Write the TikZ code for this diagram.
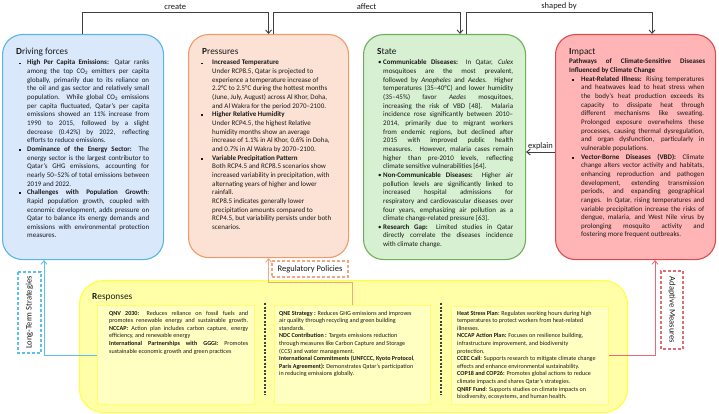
\documentclass[tikz,border=0pt]{standalone}
\usepackage{fontspec}
\setmainfont{Carlito}
\usetikzlibrary{arrows.meta}
\definecolor{dfFill}{HTML}{DAE8FC}
\definecolor{dfLine}{HTML}{5AB4E6}
\definecolor{prFill}{HTML}{FBE2D5}
\definecolor{prLine}{HTML}{F29A6C}
\definecolor{stFill}{HTML}{D8F0D2}
\definecolor{stLine}{HTML}{6FAE5C}
\definecolor{imFill}{HTML}{FFB5B5}
\definecolor{imLine}{HTML}{DC4B4B}
\definecolor{rsFill}{HTML}{FFFFA8}
\definecolor{rsLine}{HTML}{FFFF3A}
\definecolor{inFill}{HTML}{FFFFC2}
\definecolor{inLine}{HTML}{FFFF6E}
\definecolor{ltsCol}{HTML}{5BC0EB}
\definecolor{rpCol}{HTML}{F4A582}
\definecolor{amCol}{HTML}{E06C75}
\definecolor{txtCol}{HTML}{1A1A1A}
\definecolor{conCol}{HTML}{404040}
\newcommand\bodyfont{\fontsize{7}{8.65}\selectfont}
\newcommand\respfont{\fontsize{6.1}{7.6}\selectfont}
\newcommand\titlefont{\fontsize{9.3}{11}\selectfont}
\newcommand\labfont{\fontsize{8.5}{10}\selectfont}
\newcommand\tb[2]{\vtop{\hsize=#1\relax #2}}
\newcommand\jl[1]{\hbox to\hsize{#1}}
\newcommand\rl[1]{\hbox to\hsize{#1\hfil}}
\newcommand\bsq[1]{\llap{\raisebox{0.6pt}{\rule{1.8pt}{1.8pt}}\hskip#1}}
\newcommand\bdt[1]{\llap{\textbullet\hskip#1}}
\tikzset{
 bigbox/.style={draw, rounded corners=20pt, line width=1.1pt, anchor=north west, inner sep=0},
 inbox/.style={draw=inLine, fill=inFill, line width=0.9pt, anchor=north west, inner sep=0},
 txt/.style={anchor=base west, inner sep=0, text=txtCol, font=\bodyfont},
 rtxt/.style={anchor=base west, inner sep=0, text=txtCol, font=\respfont},
 ttl/.style={anchor=base west, inner sep=0, text=txtCol, font=\titlefont},
 conn/.style={draw=conCol, line width=0.9pt},
 arr/.style={-{Straight Barb[length=3.5pt,width=6pt]}},
 lab/.style={font=\labfont, text=txtCol, inner sep=1pt},
 sidebox/.style={draw, dash pattern=on 3pt off 2pt, line width=1.1pt, fill=white, anchor=center, inner sep=0, font=\labfont, text=txtCol},
 sepline/.style={draw=conCol, line width=1.1pt, dash pattern=on 2pt off 1.5pt},
}
\begin{document}
\begin{tikzpicture}[x=1pt,y=-1pt]
\useasboundingbox (0,0) rectangle (719,414);
% main boxes
\node[bigbox, draw=dfLine, fill=dfFill, minimum width=161pt, minimum height=225pt] (df) at (2,34) {};
\node[bigbox, draw=prLine, fill=prFill, minimum width=160pt, minimum height=223pt] (pr) at (188,34) {};
\node[bigbox, draw=stLine, fill=stFill, minimum width=162pt, minimum height=225pt] (st) at (363,34) {};
\node[bigbox, draw=imLine, fill=imFill, minimum width=160pt, minimum height=225pt] (im) at (555,34) {};
\node[bigbox, draw=rsLine, fill=rsFill, rounded corners=24pt, minimum width=548pt, minimum height=132pt] (rs) at (79,280) {};
\node[inbox, minimum width=157pt, minimum height=99pt] (rl) at (97,305) {};
\node[inbox, minimum width=156pt, minimum height=99pt] (rm) at (274,305) {};
\node[inbox, minimum width=157pt, minimum height=98pt] (rr) at (451,306) {};
\draw[sepline] (265,303) -- (265,395);
\draw[sepline] (441,303) -- (441,395);
% titles
\node[ttl] (dfh) at (16,55) {\textbf{D}riving forces};
\node[ttl] (prh) at (202,55) {\textbf{P}ressures};
\node[ttl] (sth) at (377,55) {\textbf{S}tate};
\node[ttl] (imh) at (569,55) {\textbf{I}mpact};
\node[ttl] (rsh) at (92,299) {\textbf{R}esponses};
% driving forces text
\node[txt] (dft) at (27,65) {\tb{122pt}{%
\jl{\bsq{6.5pt}\textbf{High Per Capita Emissions:} Qatar ranks}
\jl{among the top CO\textsubscript{2} emitters per capita}
\jl{globally, primarily due to its reliance on}
\jl{the oil and gas sector and relatively small}
\jl{population. While global CO\textsubscript{2} emissions}
\jl{per capita fluctuated, Qatar’s per capita}
\jl{emissions showed an 11\% increase from}
\jl{1990 to 2015, followed by a slight}
\jl{decrease (0.42\%) by 2022, reflecting}
\rl{efforts to reduce emissions.}
\jl{\bsq{6.5pt}\textbf{Dominance of the Energy Sector:} The}
\jl{energy sector is the largest contributor to}
\jl{Qatar’s GHG emissions, accounting for}
\jl{nearly 50–52\% of total emissions between}
\rl{2019 and 2022.}
\jl{\bsq{6.5pt}\textbf{Challenges with Population Growth}:}
\jl{Rapid population growth, coupled with}
\jl{economic development, adds pressure on}
\jl{Qatar to balance its energy demands and}
\jl{emissions with environmental protection}
\rl{measures.}}};
% pressures text
\node[txt] (prt) at (212,65) {\tb{124pt}{%
\rl{\bsq{9pt}\textbf{Increased Temperature}}
\rl{Under RCP8.5, Qatar is projected to}
\rl{experience a temperature increase of}
\rl{2.2°C to 2.5°C during the hottest months}
\rl{(June, July, August) across Al Khor, Doha,}
\rl{and Al Wakra for the period 2070–2100.}
\rl{\bsq{9pt}\textbf{Higher Relative Humidity}}
\rl{Under RCP4.5, the highest Relative}
\rl{humidity months show an average}
\rl{increase of 1.1\% in Al Khor, 0.6\% in Doha,}
\rl{and 0.7\% in Al Wakra by 2070–2100.}
\rl{\bsq{9pt}\textbf{Variable Precipitation Pattern}}
\rl{Both RCP4.5 and RCP8.5 scenarios show}
\rl{increased variability in precipitation, with}
\rl{alternating years of higher and lower}
\rl{rainfall.}
\rl{RCP8.5 indicates generally lower}
\rl{precipitation amounts compared to}
\rl{RCP4.5, but variability persists under both}
\rl{scenarios.}}};
% state text
\node[txt] (stt) at (383,65) {\tb{130pt}{%
\jl{\bdt{1.5pt}\textbf{Communicable Diseases:} In Qatar, \textit{Culex}}
\jl{mosquitoes are the most prevalent,}
\jl{followed by \textit{Anopheles} and \textit{Aedes}. Higher}
\jl{temperatures (35–40°C) and lower humidity}
\jl{(35–45\%) favor \textit{Aedes} mosquitoes,}
\jl{increasing the risk of VBD [48]. Malaria}
\jl{incidence rose significantly between 2010–}
\jl{2014, primarily due to migrant workers}
\jl{from endemic regions, but declined after}
\jl{2015 with improved public health}
\jl{measures. However, malaria cases remain}
\jl{higher than pre-2010 levels, reflecting}
\rl{climate sensitive vulnerabilities [64].}
\jl{\bdt{1.5pt}\textbf{Non-Communicable Diseases:} Higher air}
\jl{pollution levels are significantly linked to}
\jl{increased hospital admissions for}
\jl{respiratory and cardiovascular diseases over}
\jl{four years, emphasizing air pollution as a}
\rl{climate change-related pressure [63].}
\jl{\bdt{1.5pt}\textbf{Research Gap:} Limited studies in Qatar}
\jl{directly correlate the diseases incidence}
\rl{with climate change.}}};
% impact text
\node[txt] (ims) at (569,64) {\tb{136pt}{%
\jl{\textbf{Pathways of Climate-Sensitive Diseases}}
\rl{\textbf{Influenced by Climate Change}}}};
\node[txt] (imt) at (581,81.3) {\tb{123pt}{%
\jl{\bsq{7pt}\textbf{Heat-Related Illness:} Rising temperatures}
\jl{and heatwaves lead to heat stress when}
\jl{the body’s heat production exceeds its}
\jl{capacity to dissipate heat through}
\jl{different mechanisms like sweating.}
\jl{Prolonged exposure overwhelms these}
\jl{processes, causing thermal dysregulation,}
\jl{and organ dysfunction, particularly in}
\rl{vulnerable populations.}
\jl{\bsq{7pt}\textbf{Vector-Borne Diseases (VBD):} Climate}
\jl{change alters vector activity and habitats,}
\jl{enhancing reproduction and pathogen}
\jl{development, extending transmission}
\jl{periods, and expanding geographical}
\jl{ranges. In Qatar, rising temperatures and}
\jl{variable precipitation increase the risks of}
\jl{dengue, malaria, and West Nile virus by}
\jl{prolonging mosquito activity and}
\rl{fostering more frequent outbreaks.}}};
% responses text
\node[rtxt] (rlt) at (109,315) {\tb{139pt}{%
\jl{\textbf{QNV 2030:} Reduces reliance on fossil fuels and}
\jl{promotes renewable energy and sustainable growth.}
\jl{\textbf{NCCAP:} Action plan includes carbon capture, energy}
\rl{efficiency, and renewable energy}
\jl{\textbf{International Partnerships with GGGI:} Promotes}
\rl{sustainable economic growth and green practices}}};
\node[rtxt] (rmt) at (279,315) {\tb{148pt}{%
\rl{\textbf{QNE Strategy :} Reduces GHG emissions and improves}
\rl{air quality through recycling and green building}
\rl{standards.}
\rl{\textbf{NDC Contribution :} Targets emissions reduction}
\rl{through measures like Carbon Capture and Storage}
\rl{(CCS) and water management.}
\rl{\textbf{International Commitments (UNFCCC, Kyoto Protocol},}
\rl{\textbf{Paris Agreement):} Demonstrates Qatar’s participation}
\rl{in reducing emissions globally.}}};
\node[rtxt] (rrt) at (457,315) {\tb{148pt}{%
\rl{\textbf{Heat Stress Plan}: Regulates working hours during high}
\rl{temperatures to protect workers from heat-related}
\rl{illnesses.}
\rl{\textbf{NCCAP Action Plan:} Focuses on resilience building,}
\rl{infrastructure improvement, and biodiversity}
\rl{protection.}
\rl{\textbf{CCEC Call}: Supports research to mitigate climate change}
\rl{effects and enhance environmental sustainability.}
\rl{\textbf{COP18 and COP26:} Promotes global actions to reduce}
\rl{climate impacts and shares Qatar’s strategies.}
\rl{\textbf{QNRF Fund}: Supports studies on climate impacts on}
\rl{biodiversity, ecosystems, and human health.}}};
% side boxes
\node[sidebox, draw=ltsCol, rotate=90, minimum width=81pt, minimum height=23pt] (lts) at (29.5,312.5) {Long-Term Strategies};
\node[sidebox, draw=rpCol, minimum width=76pt, minimum height=16pt] (rp) at (310,269) {Regulatory Policies};
\node[sidebox, draw=amCol, rotate=-90, minimum width=78pt, minimum height=22pt] (am) at (672,310) {Adaptive Measures};
% coordinates
\coordinate (ty) at (0,12);
\coordinate (ey) at (0,152);
\coordinate (oy) at (0,282);
\coordinate (cx1) at (82,0);
\coordinate (cx2) at (273,0);
\coordinate (cx3) at (460,0);
\coordinate (cx4) at (466,0);
\coordinate (cx5) at (652,0);
\coordinate (bx) at (44,0);
\coordinate (rx) at (655,0);
% connectors
\draw[conn,arr] (df.north -| cx1) |- node[lab, pos=0.75, above=1pt] (lcreate) {create} (pr.north |- ty) -- (pr.north);
\draw[conn,arr] (pr.north -| cx2) |- node[lab, pos=0.75, above=1pt] (laffect) {affect} (cx3 |- ty) -- (st.north -| cx3);
\draw[conn,arr] (st.north -| cx4) |- node[lab, pos=0.75, above=1pt] (lshaped) {shaped by} (cx5 |- ty) -- (im.north -| cx5);
\draw[conn,arr] (im.west |- ey) -- node[lab, above=1pt] (lexplain) {explain} (st.east |- ey);
\draw[conn,draw=ltsCol,arr] (rl.west) -| (df.south -| bx);
\draw[conn,draw=rpCol,arr] (rm.north) |- (pr.south |- oy) -- (pr.south);
\draw[conn,draw=amCol,arr] (rr.east) -| (im.south -| rx);
\end{tikzpicture}
\end{document}
